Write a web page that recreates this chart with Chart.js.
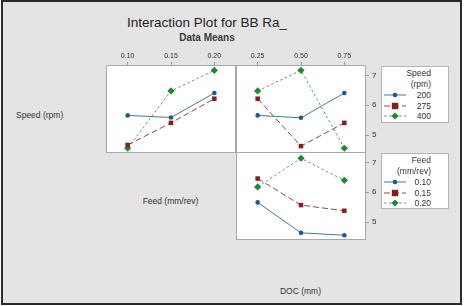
<!DOCTYPE html>
<html>
<head>
<meta charset="utf-8">
<script src="https://cdn.jsdelivr.net/npm/chart.js@4"></script>
<style>
body{margin:0;width:467px;height:306px;background:#fff;font-family:"Liberation Sans",Arial,sans-serif;overflow:hidden;position:relative}
#frame{position:absolute;left:1px;top:0;width:457px;height:301px;border:2px solid #2b2b2b;background:#e4e4e4}
.t{position:absolute;white-space:nowrap;color:#333;line-height:1}
canvas{position:absolute}
.leg{position:absolute;background:#fff;border:1px solid #b4b4b4;box-sizing:border-box}
.leg .row{position:absolute;left:0;width:49px;text-align:right;font-size:8.5px;color:#333;line-height:1}
.leg svg{position:absolute;left:1px}
</style>
</head>
<body>
<div id="frame"></div>
<div class="t" id="title" style="left:0;width:414px;text-align:center;top:16px;font-size:13.5px;color:#222">Interaction Plot for BB Ra_</div>
<div class="t" style="left:0;width:414px;text-align:center;top:33px;font-size:10px;font-weight:bold;color:#3a3a3a">Data Means</div>
<div class="t" style="left:16px;top:111px;font-size:8.5px">Speed (rpm)</div>
<div class="t" style="left:100px;width:141px;text-align:center;top:197px;font-size:8.5px">Feed (mm/rev)</div>
<div class="t" style="left:230px;width:141px;text-align:center;top:287px;font-size:8.5px">DOC (mm)</div>

<canvas id="p1" width="130" height="106" style="left:106px;top:47px"></canvas>
<canvas id="p2" width="146" height="106" style="left:236px;top:47px"></canvas>
<canvas id="p3" width="146" height="88" style="left:236px;top:152px"></canvas>

<div class="leg" id="leg1" style="left:381px;top:66px;width:68px;height:57px"></div>
<div class="leg" id="leg2" style="left:381px;top:153px;width:68px;height:56px"></div>

<script>
const feedLabels = ['0.10', '0.15', '0.20'];
const docLabels = ['0.25', '0.50', '0.75'];
const speedLevels = ['200', '275', '400'];
const feedLevels = ['0.10', '0.15', '0.20'];
const yTicks = [5, 6, 7];

// Speed x Feed
const speed200Feed = [5.66, 5.59, 6.41];
const speed275Feed = [4.67, 5.41, 6.22];
const speed400Feed = [4.56, 6.48, 7.17];
// Speed x DOC
const speed200Doc = [5.66, 5.58, 6.41];
const speed275Doc = [6.22, 4.63, 5.41];
const speed400Doc = [6.48, 7.17, 4.56];
// Feed x DOC
const feed010Doc = [5.66, 4.64, 4.56];
const feed015Doc = [6.46, 5.57, 5.38];
const feed020Doc = [6.18, 7.14, 6.40];

const styles = [
    {line:'#3f7f95', point:'#1f5a8a', shape:'circle', r:2.3, dash:[]},
    {line:'#8a4a4a', point:'#8b1c1c', shape:'rect', r:3.2, dash:[6,3]},
    {line:'#5f9a70', point:'#1b8a35', shape:'rectRot', r:3.6, dash:[2.5,2.5]}
];

const panelBg = {
    id:'panelBg',
    beforeDraw(chart){
        const a = chart.chartArea, ctx = chart.ctx;
        ctx.save();
        ctx.fillStyle = '#fff';
        ctx.fillRect(a.left, a.top, a.right - a.left, a.bottom - a.top);
        ctx.restore();
    },
    afterDraw(chart){
        const a = chart.chartArea, ctx = chart.ctx;
        ctx.save();
        ctx.strokeStyle = '#a8a8a8';
        ctx.lineWidth = 1;
        ctx.strokeRect(a.left + 0.5, a.top + 0.5, a.right - a.left - 1, a.bottom - a.top - 1);
        ctx.restore();
    }
};

function noPad(s){
    s.paddingLeft = 0; s.paddingRight = 0; s.paddingTop = 0; s.paddingBottom = 0;
}

function makePanel(id, labels, series, showX, showY){
    new Chart(document.getElementById(id), {
        type:'line',
        data:{
            labels: labels,
            datasets: series.map((d, i) => ({
                data: d,
                borderColor: styles[i].line,
                borderWidth: 1,
                borderDash: styles[i].dash,
                pointStyle: styles[i].shape,
                pointRadius: styles[i].r,
                pointBackgroundColor: styles[i].point,
                pointBorderColor: styles[i].point,
                pointBorderWidth: 0,
                tension: 0,
                clip: 6
            }))
        },
        options:{
            responsive:false,
            animation:false,
            layout:{padding:0, autoPadding:false},
            plugins:{legend:{display:false}, tooltip:{enabled:false}},
            scales:{
                x:{
                    position:'top', offset:true, display:showX,
                    grid:{drawOnChartArea:false, tickLength:3, color:'#999'},
                    border:{display:false},
                    ticks:{font:{size:7}, color:'#333', padding:2, autoSkip:false, maxRotation:0},
                    afterFit: s => { noPad(s); if (showX) s.height = 18; }
                },
                y:{
                    position:'right', min:4.4, max:7.35, display:showY,
                    afterBuildTicks: s => { s.ticks = yTicks.map(v => ({value:v})); },
                    grid:{drawOnChartArea:false, tickLength:3, color:'#999'},
                    border:{display:false},
                    ticks:{font:{size:8}, color:'#333', padding:3},
                    afterFit: s => { noPad(s); if (showY) s.width = 16; }
                }
            }
        },
        plugins:[panelBg]
    });
}

makePanel('p1', feedLabels, [speed200Feed, speed275Feed, speed400Feed], true, false);
makePanel('p2', docLabels, [speed200Doc, speed275Doc, speed400Doc], true, true);
makePanel('p3', docLabels, [feed010Doc, feed015Doc, feed020Doc], false, true);

function symbol(s){
    const dash = s.dash.length ? `stroke-dasharray="${s.dash.join(',')}"` : '';
    let mark;
    if (s.shape === 'circle') mark = `<circle cx="11" cy="4" r="${s.r}" fill="${s.point}"/>`;
    else if (s.shape === 'rect') mark = `<rect x="${11 - s.r}" y="${4 - s.r}" width="${s.r * 2}" height="${s.r * 2}" fill="${s.point}"/>`;
    else mark = `<rect x="${11 - s.r / 1.414}" y="${4 - s.r / 1.414}" width="${s.r * 1.414}" height="${s.r * 1.414}" fill="${s.point}" transform="rotate(45 11 4)"/>`;
    return `<svg width="22" height="8"><line x1="0" y1="4" x2="22" y2="4" stroke="${s.line}" stroke-width="1" ${dash}/>${mark}</svg>`;
}

function makeLegend(id, head1, head2, levels){
    const el = document.getElementById(id);
    let html = `<div class="row" style="top:2px">${head1}</div><div class="row" style="top:13px">${head2}</div>`;
    levels.forEach((lv, i) => {
        const top = 24 + i * 10.5;
        html += `<div class="row" style="top:${top}px">${lv}</div>`;
        html += `<div style="position:absolute;left:1px;top:${top}px">${symbol(styles[i])}</div>`;
    });
    el.innerHTML = html;
}
makeLegend('leg1', 'Speed', '(rpm)', speedLevels);
makeLegend('leg2', 'Feed', '(mm/rev)', feedLevels);
</script>
</body>
</html>
